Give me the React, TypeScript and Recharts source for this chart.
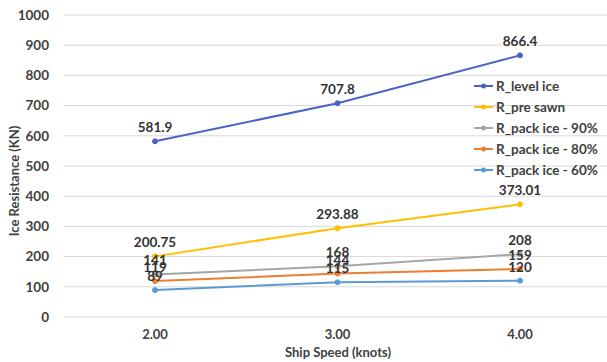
import React from "react";
import {
  CartesianGrid,
  LabelList,
  Legend,
  Line,
  LineChart,
  XAxis,
  YAxis,
} from "recharts";

const speeds = ["2.00", "3.00", "4.00"];
const levelIce = [581.9, 707.8, 866.4];
const preSawn = [200.75, 293.88, 373.01];
const pack90 = [141, 168, 208];
const pack80 = [119, 144, 159];
const pack60 = [89, 115, 120];
const yTicks = [0, 100, 200, 300, 400, 500, 600, 700, 800, 900, 1000];

const series = [
  { key: "level", name: "R_level ice", color: "#4A63C4" },
  { key: "pre", name: "R_pre sawn", color: "#FFC000" },
  { key: "p90", name: "R_pack ice - 90%", color: "#A5A5A5" },
  { key: "p80", name: "R_pack ice - 80%", color: "#ED7D31" },
  { key: "p60", name: "R_pack ice - 60%", color: "#5B9BD5" },
];
const seriesOrder = series.map((s) => s.name);

const FONT = "Lato, 'Open Sans', sans-serif";
const TEXT = "#404040";

const LegendBox = (props: any): JSX.Element => {
  const payload = [...(props.payload || [])].sort(
    (a: any, b: any) => seriesOrder.indexOf(a.value) - seriesOrder.indexOf(b.value)
  );
  return (
    <div style={{ fontFamily: FONT, fontWeight: 700, fontSize: 13.5, color: TEXT }}>
      {payload.map((entry: any) => (
        <div
          key={entry.value}
          style={{ height: 21, display: "flex", alignItems: "center" }}
        >
          <svg width={21} height={10} style={{ marginRight: 1 }}>
            <line x1={0} y1={5} x2={19} y2={5} stroke={entry.color} strokeWidth={2} />
            <circle cx={9.5} cy={5} r={2.5} fill={entry.color} />
          </svg>
          <span>{entry.value}</span>
        </div>
      ))}
    </div>
  );
};

const App: React.FunctionComponent = (): JSX.Element => {
  const data = speeds.map((speed, i) => ({
    speed,
    level: levelIce[i],
    pre: preSawn[i],
    p90: pack90[i],
    p80: pack80[i],
    p60: pack60[i],
  }));

  return (
    <div
      style={{
        position: "absolute",
        left: 0,
        top: 0,
        width: 607,
        height: 362,
        overflow: "hidden",
        background: "#fff",
      }}
    >
      <LineChart
        width={612}
        height={362}
        data={data}
        margin={{ top: 15, right: 0, left: 0, bottom: 0 }}
      >
        <CartesianGrid vertical={false} stroke="#D9D9D9" />
        <XAxis
          dataKey="speed"
          padding={{ left: 91, right: 92 }}
          axisLine={false}
          tickLine={false}
          tickSize={0}
          tickMargin={13}
          height={45}
          tick={{ fill: TEXT, fontSize: 13, fontWeight: 700, fontFamily: FONT }}
          label={{
            content: (p: any) => {
              const vb = p.viewBox;
              return (
                <text
                  x={vb.x + vb.width / 2}
                  y={vb.y + 40}
                  textAnchor="middle"
                  fill={TEXT}
                  fontSize={13}
                  fontWeight={700}
                  fontFamily={FONT}
                >
                  Ship Speed (knots)
                </text>
              );
            },
          }}
        />
        <YAxis
          width={64}
          domain={[0, 1000]}
          ticks={yTicks}
          interval={0}
          axisLine={false}
          tickLine={false}
          tickSize={0}
          tickMargin={15}
          tick={{ fill: TEXT, fontSize: 13.5, fontWeight: 700, fontFamily: FONT }}
          label={{
            content: (p: any) => {
              const vb = p.viewBox;
              const cy = vb.y + vb.height / 2 + 15;
              return (
                <text
                  transform={`translate(19, ${cy}) rotate(-90)`}
                  textAnchor="middle"
                  fill={TEXT}
                  fontSize={13}
                  fontWeight={700}
                  fontFamily={FONT}
                >
                  Ice Resistance (KN)
                </text>
              );
            },
          }}
        />
        <Legend
          layout="vertical"
          align="center"
          verticalAlign="middle"
          content={<LegendBox />}
          wrapperStyle={{ left: 474, top: 75, width: 140, bottom: "auto" }}
        />
        {series.map((s) => (
          <Line
            key={s.key}
            type="linear"
            dataKey={s.key}
            name={s.name}
            stroke={s.color}
            strokeWidth={2}
            dot={{ r: 2.5, fill: s.color, stroke: s.color, strokeWidth: 1 }}
            activeDot={false}
            isAnimationActive={false}
          >
            <LabelList
              dataKey={s.key}
              position="top"
              offset={9}
              fill="#333"
              fontSize={13.5}
              fontWeight={700}
              fontFamily={FONT}
            />
          </Line>
        ))}
      </LineChart>
    </div>
  );
};

export default App;
